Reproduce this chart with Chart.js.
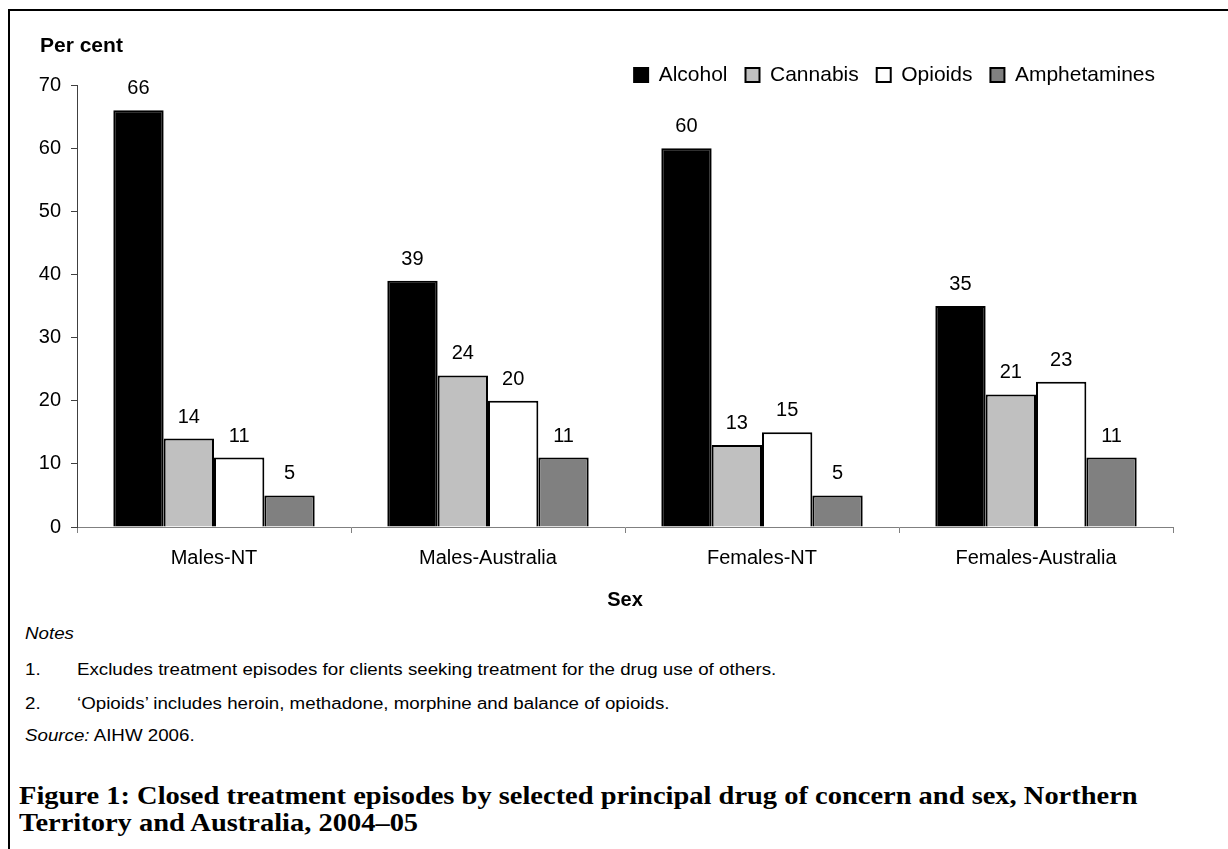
<!DOCTYPE html>
<html>
<head>
<meta charset="utf-8">
<title>Closed treatment episodes by principal drug of concern and sex</title>
<script src="https://cdn.jsdelivr.net/npm/chart.js@4.4.0/dist/chart.umd.min.js"></script>
<style>
  html, body { margin: 0; padding: 0; background: #fff; }
  body {
    width: 1228px; height: 849px; position: relative; overflow: hidden;
    font-family: "Liberation Sans", Arial, sans-serif; color: #000;
  }
  #frame {
    position: absolute; left: 8px; top: 9px; width: 1400px; height: 1000px;
    border-top: 2px solid #000; border-left: 2px solid #000;
  }
  #chartBox { position: absolute; left: 0; top: 0; width: 1228px; height: 625px; }
  #yTitle {
    position: absolute; left: 40px; top: 33px;
    font-weight: bold; font-size: 21px; line-height: 24px;
  }
  .txt {
    position: absolute; font-size: 16px; line-height: 18px; white-space: nowrap;
    transform: scaleX(1.17); transform-origin: left center;
  }
  .cap {
    position: absolute; left: 19px; white-space: nowrap;
    font-family: "Liberation Serif", "DejaVu Serif", serif; font-weight: bold;
    font-size: 26px; line-height: 28px;
    transform: scaleX(1.095); transform-origin: left center;
  }
</style>
</head>
<body>
<div id="frame"></div>
<div id="chartBox"><canvas id="chart"></canvas></div>
<div id="yTitle">Per cent</div>

<div class="txt" style="left:25px; top:625px;"><i>Notes</i></div>
<div class="txt" style="left:25px; top:661px;">1.</div>
<div class="txt" style="left:77px; top:661px;">Excludes treatment episodes for clients seeking treatment for the drug use of others.</div>
<div class="txt" style="left:25px; top:695px;">2.</div>
<div class="txt" style="left:77px; top:695px;">‘Opioids’ includes heroin, methadone, morphine and balance of opioids.</div>
<div class="txt" style="left:25px; top:727px;"><i>Source:</i> AIHW 2006.</div>

<div class="cap" style="top:782px;">Figure 1: Closed treatment episodes by selected principal drug of concern and sex, Northern</div>
<div class="cap" style="top:809px;">Territory and Australia, 2004–05</div>

<script>
// Share of closed treatment episodes (per cent), by group
const categories   = ['Males-NT', 'Males-Australia', 'Females-NT', 'Females-Australia'];
const alcohol      = [66, 39, 60, 35];
const cannabis     = [14, 24, 13, 21];
const opioids      = [11, 20, 15, 23];
const amphetamines = [5, 11, 5, 11];
const seriesNames  = ['Alcohol', 'Cannabis', 'Opioids', 'Amphetamines'];
const yMin = 0, yMax = 70, yStep = 10;
const axisTitleX = 'Sex';

const FONT = '"Liberation Sans", Arial, sans-serif';
Chart.defaults.color = '#000';
Chart.defaults.font.family = FONT;

// Fixed legend band height so the plot starts right under it
const legendBand = {
  id: 'legendBand',
  beforeInit(chart) {
    const fit = chart.legend.fit;
    chart.legend.fit = function () {
      fit.call(this);
      this.height = 38.5;
    };
  }
};

// Value printed above each bar
const valueLabels = {
  id: 'valueLabels',
  afterDatasetsDraw(chart) {
    const ctx = chart.ctx;
    ctx.save();
    ctx.font = '20px ' + FONT;
    ctx.fillStyle = '#000';
    ctx.textAlign = 'center';
    ctx.textBaseline = 'alphabetic';
    chart.data.datasets.forEach((ds, i) => {
      chart.getDatasetMeta(i).data.forEach((bar, j) => {
        ctx.fillText(String(ds.data[j]), bar.x, bar.y - 16);
      });
    });
    ctx.restore();
  }
};

const fills = ['#000000', '#c0c0c0', '#ffffff', '#808080'];
const values = [alcohol, cannabis, opioids, amphetamines];

new Chart(document.getElementById('chart'), {
  type: 'bar',
  data: {
    labels: categories,
    datasets: values.map((v, i) => ({
      label: seriesNames[i],
      data: v,
      backgroundColor: fills[i],
      borderColor: '#000',
      borderWidth: 2,
      borderSkipped: 'start',
      categoryPercentage: 0.735,
      barPercentage: 1.0
    }))
  },
  options: {
    responsive: true,
    maintainAspectRatio: false,
    animation: false,
    layout: { padding: { top: 46.5, right: 55, bottom: 0, left: 0 } },
    plugins: {
      tooltip: { enabled: false },
      title: { display: false },
      legend: {
        display: true,
        position: 'top',
        align: 'end',
        labels: {
          boxWidth: 14,
          boxHeight: 14,
          padding: 18,
          color: '#000',
          font: { size: 21, family: FONT }
        }
      }
    },
    scales: {
      x: {
        type: 'category',
        offset: true,
        afterFit(scale) { scale.height = 625 - 527; },
        grid: {
          offset: true,
          drawOnChartArea: false,
          drawTicks: true,
          tickLength: 6,
          color: '#808080'
        },
        border: { display: true, color: '#808080', width: 1 },
        ticks: { padding: 13, font: { size: 20, family: FONT }, color: '#000', maxRotation: 0 },
        title: {
          display: true,
          text: axisTitleX,
          color: '#000',
          font: { size: 20, weight: 'bold', family: FONT },
          padding: { top: 0, bottom: 13 }
        }
      },
      y: {
        min: yMin,
        max: yMax,
        afterFit(scale) { scale.width = 77; },
        grid: {
          drawOnChartArea: false,
          drawTicks: true,
          tickLength: 6,
          color: '#404040'
        },
        border: { display: true, color: '#404040', width: 1 },
        ticks: { stepSize: yStep, padding: 10, font: { size: 20, family: FONT }, color: '#000' }
      }
    }
  },
  plugins: [legendBand, valueLabels]
});
</script>
</body>
</html>
